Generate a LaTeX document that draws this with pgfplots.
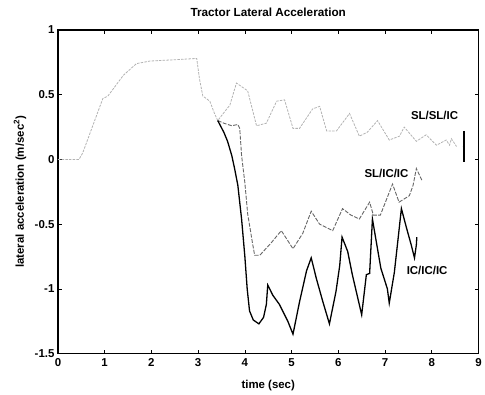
\documentclass[border=0pt]{standalone}
\usepackage{pgfplots}
\pgfplotsset{compat=1.18}
\usepackage{fontspec}
\setmainfont{Liberation Sans}
\begin{document}
\begin{tikzpicture}
\begin{axis}[
  scale only axis,
  width=421bp, height=324bp,
  xmin=0, xmax=9, ymin=-1.5, ymax=1,
  xtick={0,1,...,9},
  ytick={-1.5,-1,-0.5,0,0.5,1},
  yticklabels={-1.5,-1,-0.5,0,0.5,1},
  xticklabels={0,1,2,3,4,5,6,7,8,9},
  tick align=inside,
  major tick length=4bp,
  axis line style={draw=black, line width=1pt},
  tick style={black, line width=0.6pt},
  font=\fontsize{11.5}{13}\selectfont\bfseries,
  /pgf/number format/assume math mode=true,
  title={Tractor Lateral Acceleration},
  title style={at={([yshift=18bp]axis description cs:0.5,1)}, anchor=center, yshift=-6pt, font=\fontsize{11.8}{14}\selectfont\bfseries},
  xlabel={time (sec)},
  xlabel style={at={([yshift=-32bp]axis description cs:0.5,0)}, anchor=center},
  ylabel={lateral acceleration (m/sec\textsuperscript{2})},
  ylabel style={at={([xshift=-38bp]axis description cs:0,0.5)}, anchor=center},
  xticklabel style={yshift=-1bp},
  clip=false,
]
% frame, drawn a hair inside the limits
\addplot[black, line width=1pt] coordinates {(0.01,-1.497)(8.99,-1.497)(8.99,0.997)(0.01,0.997)(0.01,-1.497)};
% common segment + SL/SL/IC
\addplot[gray!60, line width=0.8pt, dash pattern=on 2.5pt off 1.2pt] coordinates {
(0,0)(0.45,0)(0.53,0.05)(0.96,0.47)(1.07,0.49)(1.4,0.65)(1.68,0.74)(1.97,0.76)(2.5,0.77)(2.97,0.78)
(3.03,0.62)(3.1,0.49)(3.25,0.45)(3.35,0.355)(3.42,0.30)
(3.57,0.37)(3.68,0.42)(3.82,0.59)(4.06,0.53)(4.25,0.26)(4.46,0.28)(4.68,0.45)(4.85,0.46)
(5.03,0.24)(5.17,0.24)(5.45,0.39)(5.6,0.41)(5.75,0.22)(5.96,0.22)(6.24,0.355)(6.45,0.18)
(6.62,0.21)(6.84,0.30)(7.09,0.15)(7.31,0.18)(7.41,0.25)(7.67,0.14)(7.88,0.19)(8.1,0.11)
(8.31,0.15)(8.38,0.11)(8.42,0.16)(8.53,0.10)
};
% SL/IC/IC
\addplot[gray!80!black, line width=0.9pt, dash pattern=on 4pt off 1.5pt] coordinates {
(3.42,0.30)(3.55,0.28)(3.72,0.26)(3.85,0.27)(3.89,0.24)(3.93,0.03)(4.0,-0.18)(4.06,-0.42)
(4.17,-0.66)(4.21,-0.74)(4.32,-0.74)(4.55,-0.65)(4.78,-0.55)(5.03,-0.69)(5.24,-0.57)
(5.42,-0.40)(5.6,-0.50)(5.88,-0.55)(6.09,-0.38)(6.27,-0.43)(6.45,-0.46)(6.67,-0.33)
(6.75,-0.43)(6.9,-0.43)(7.16,-0.19)(7.3,-0.33)(7.52,-0.28)(7.6,-0.2)(7.67,-0.07)(7.8,-0.17)
};
% IC/IC/IC
\addplot[black, line width=1.3pt] coordinates {
(3.42,0.30)(3.55,0.21)(3.63,0.14)(3.72,0.03)(3.78,-0.07)(3.85,-0.2)(3.93,-0.46)(4.0,-0.75)
(4.05,-1.0)(4.1,-1.17)(4.18,-1.24)(4.3,-1.27)(4.4,-1.22)(4.46,-1.12)(4.49,-0.97)(4.6,-1.05)
(4.74,-1.12)(4.92,-1.25)(5.03,-1.35)(5.17,-1.10)(5.32,-0.86)(5.42,-0.76)(5.53,-0.92)
(5.67,-1.10)(5.81,-1.27)(5.95,-1.02)(6.03,-0.82)(6.08,-0.60)(6.2,-0.71)(6.3,-0.89)
(6.5,-1.20)(6.6,-0.89)(6.67,-0.88)(6.73,-0.46)(6.81,-0.63)(6.91,-0.84)(7.05,-1.0)
(7.09,-1.11)(7.2,-0.87)(7.35,-0.38)(7.46,-0.53)(7.56,-0.66)(7.63,-0.76)(7.67,-0.66)(7.68,-0.60)
};
% bracket
\addplot[black, line width=2pt] coordinates {(8.7,0.22)(8.7,-0.02)};
\addplot[black, line width=0.8pt] coordinates {(8.66,0.10)(8.7,0.10)};
\node[font=\fontsize{11.5}{13}\selectfont\bfseries] at (axis cs:8.06,0.34) {SL/SL/IC};
\node[font=\fontsize{11.5}{13}\selectfont\bfseries] at (axis cs:7.03,-0.11) {SL/IC/IC};
\node[font=\fontsize{11.5}{13}\selectfont\bfseries] at (axis cs:7.9,-0.86) {IC/IC/IC};
\coordinate (bl) at ([xshift=-58bp,yshift=-39bp]rel axis cs:0,0);
\coordinate (tr) at ([xshift=6bp,yshift=30bp]rel axis cs:1,1);
\end{axis}
\useasboundingbox (bl) rectangle (tr);
\end{tikzpicture}
\end{document}
